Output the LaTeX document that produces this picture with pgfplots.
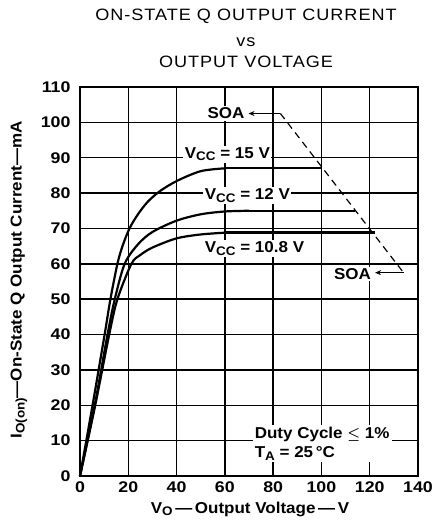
\documentclass[border=0pt]{standalone}
\usepackage{fontspec}
\setmainfont{Liberation Sans}[FakeStretch=1.08]
\newfontfamily\titlefont{Liberation Sans}[FakeStretch=1.1,LetterSpace=6]
\newfontfamily\tickfont{Liberation Sans Bold}[FakeStretch=1.15]
\usepackage{pgfplots}
\pgfplotsset{compat=1.18}
\usetikzlibrary{arrows.meta}
\newcommand\lab{\bfseries\fontsize{15.8}{19}\selectfont}
\newcommand\sub[1]{\raisebox{-0.35ex}{\fontsize{12.5}{14}\selectfont #1}}
\begin{document}
\begin{tikzpicture}
\path[use as bounding box] (-80bp,-56bp) rectangle (352bp,476bp);
\begin{axis}[at={(0,0)}, anchor=south west, scale only axis,
  width=338bp, height=389bp,
  xmin=0, xmax=140, ymin=0, ymax=110,
  xtick={0,20,...,140}, ytick={0,10,...,110},
  grid=major, major grid style={black, line width=1.4pt},
  axis line style={line width=1.6pt},
  tick style={draw=none},
  /pgf/number format/assume math mode=true,
  ticklabel style={font=\tickfont\fontsize{15.5}{18}\selectfont},
  xticklabel style={yshift=-2bp},
  yticklabel style={xshift=-6bp},
  clip=false]
% 15 V
\addplot[black, line width=2.2pt, smooth, tension=0.5] coordinates {
 (0,0) (5.2,20) (10.2,40) (12.6,50) (15.5,60) (17.6,65) (20.5,70) (24,74) (28,77.5) (33,80.5) (40,83.4) (50,86.2) (60,87)};
\addplot[black, line width=2.2pt] coordinates {(60,87) (100,87)};
% 12 V
\addplot[black, line width=2.2pt, smooth, tension=0.5] coordinates {
 (0,0) (6.1,20) (11.4,40) (14.4,50) (18.5,60) (24,65.5) (30,69) (40,72.2) (50,74) (60,74.8) (70,75)};
\addplot[black, line width=2.2pt] coordinates {(70,75) (114,75)};
% 10.8 V
\addplot[black, line width=2.2pt, smooth, tension=0.5] coordinates {
 (0,0) (6.3,20) (12.1,40) (15.5,50) (21.3,60) (25,62.5) (30,64.6) (40,67.2) (50,68.3) (60,68.8)};
\addplot[black, line width=2.6pt] coordinates {(60,68.8) (122,68.8)};
% SOA
\addplot[black, line width=1.2pt, dash pattern=on 7bp off 5bp] coordinates {(83,102.5) (134,57.5)};
\addplot[black, line width=1.2pt, -{Stealth[length=6bp,width=5bp]}] coordinates {(83,102.5) (69.8,102.5)};
\addplot[black, line width=1.2pt, -{Stealth[length=6bp,width=5bp]}] coordinates {(134,57.5) (122.2,57.5)};
\node[font=\lab, fill=white, inner sep=1.5bp, anchor=east] at (axis cs:68.8,102.5) {SOA};
\node[font=\lab, fill=white, inner sep=1.5bp, anchor=east] at (axis cs:121.2,57.2) {SOA};
\node[font=\lab, fill=white, inner sep=1.5bp, anchor=west] at (axis cs:42.7,91) {V\sub{CC} = 15 V};
\node[font=\lab, fill=white, inner sep=1.5bp, anchor=west] at (axis cs:51,79.4) {V\sub{CC} = 12 V};
\node[font=\lab, fill=white, inner sep=1.5bp, anchor=west] at (axis cs:51,64.4) {V\sub{CC} = 10.8 V};
\node[font=\lab, fill=white, inner sep=2bp, anchor=west, align=left] at (axis cs:71.5,9.2)
  {Duty Cycle {\boldmath$\leq$} 1\%\\T\sub{A} = 25\,°C};
\end{axis}
\node[font=\titlefont\fontsize{16.5}{19}\selectfont, anchor=base] at (166bp,455bp) {ON-STATE Q OUTPUT CURRENT};
\node[font=\titlefont\fontsize{16.5}{19}\selectfont, anchor=base] at (166bp,429bp) {vs};
\node[font=\titlefont\fontsize{16.5}{19}\selectfont, anchor=base] at (166bp,408bp) {OUTPUT VOLTAGE};
\node[font=\lab, anchor=base] at (170bp,-37bp) {V\sub{O}\,—\,Output Voltage\,—\,V};
\node[font=\lab, rotate=90] at (-61bp,196bp) {I\sub{O(on)}—On-State Q Output Current—mA};
\end{tikzpicture}
\end{document}
